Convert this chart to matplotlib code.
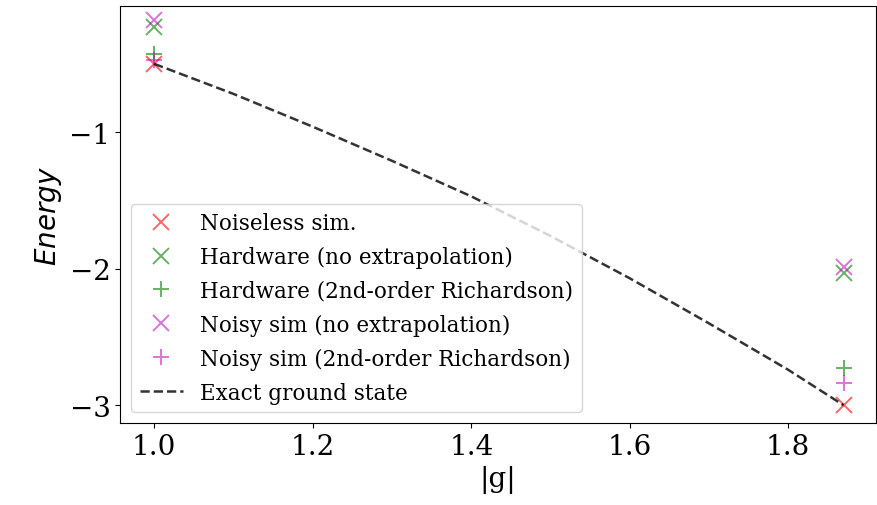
import matplotlib
matplotlib.use("Agg")
import matplotlib.pyplot as plt

# coupling values (|g|)
g_points = [1.0, 1.87]

# energies
noiseless = [-0.50, -3.00]
hw_raw = [-0.23, -2.03]
hw_rich = [-0.43, -2.73]
noisy_raw = [-0.18, -1.99]
noisy_rich = [-0.47, -2.84]

# exact ground state curve
g_exact = [1.0, 1.1, 1.2, 1.3, 1.4, 1.5, 1.6, 1.7, 1.8, 1.87]
e_exact = [-0.50, -0.72, -0.96, -1.21, -1.47, -1.76, -2.07, -2.40, -2.74, -3.00]

plt.rcParams["font.family"] = "DejaVu Serif"
plt.rcParams["mathtext.fontset"] = "dejavusans"

fig = plt.figure(figsize=(8.77, 5.06), dpi=100)
ax = fig.add_axes([0.137, 0.162, 0.862, 0.824])

ms = 12
mew = 1.4
ax.plot(g_points, noiseless, "x", color="r", alpha=0.6, ms=ms, mew=mew, label="Noiseless sim.")
ax.plot(g_points, hw_raw, "x", color="g", alpha=0.6, ms=ms, mew=mew, label="Hardware (no extrapolation)")
ax.plot(g_points, hw_rich, "+", color="g", alpha=0.6, ms=ms, mew=mew, label="Hardware (2nd-order Richardson)")
ax.plot(g_points, noisy_raw, "x", color="m", alpha=0.55, ms=ms, mew=mew, label="Noisy sim (no extrapolation)")
ax.plot(g_points, noisy_rich, "+", color="m", alpha=0.55, ms=ms, mew=mew, label="Noisy sim (2nd-order Richardson)")
ax.plot(g_exact, e_exact, "--", color="k", alpha=0.8, lw=1.8, label="Exact ground state")

ax.set_xlim(0.957, 1.911)
ax.set_ylim(-3.13, -0.077)
ax.set_xticks([1.0, 1.2, 1.4, 1.6, 1.8])
ax.set_yticks([-1, -2, -3])
ax.tick_params(labelsize=20)

ax.set_xlabel("|g|", fontsize=20)
ax.set_ylabel("$Energy$", fontsize=20)

ax.legend(loc="lower left", fontsize=15.5, labelspacing=0.55)

fig.savefig("out.png", dpi=100)
